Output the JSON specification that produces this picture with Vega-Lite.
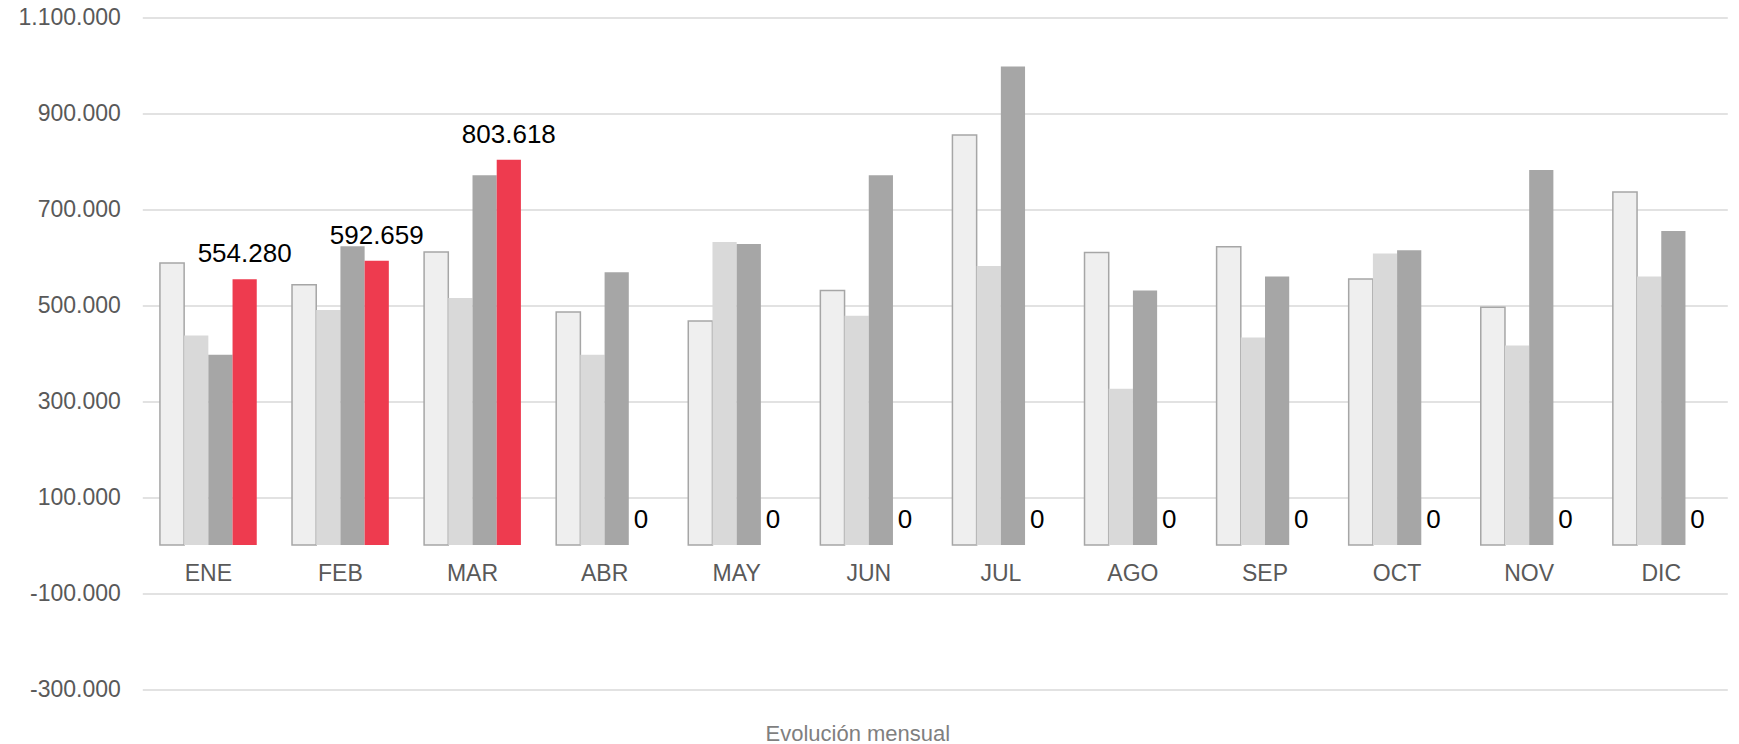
{
  "$schema": "https://vega.github.io/schema/vega-lite/v6.json",
  "width": 1585,
  "height": 671.5,
  "autosize": {"type": "none"},
  "padding": {"left": 142.3, "top": 17.5, "right": 11.7, "bottom": 55},
  "background": "white",
  "config": {
    "font": "Liberation Sans",
    "view": {"stroke": null},
    "locale": {"number": {"decimal": ",", "thousands": ".", "grouping": [3], "currency": ["", " €"], "minus": "-"}}
  },
  "data": {
    "values": [
      {"mes": "ENE", "serie": "S1", "valor": 588000},
      {"mes": "ENE", "serie": "S2", "valor": 437000},
      {"mes": "ENE", "serie": "S3", "valor": 397000},
      {"mes": "ENE", "serie": "S4", "valor": 554280},
      {"mes": "FEB", "serie": "S1", "valor": 543000},
      {"mes": "FEB", "serie": "S2", "valor": 490000},
      {"mes": "FEB", "serie": "S3", "valor": 623000},
      {"mes": "FEB", "serie": "S4", "valor": 592659},
      {"mes": "MAR", "serie": "S1", "valor": 611000},
      {"mes": "MAR", "serie": "S2", "valor": 515000},
      {"mes": "MAR", "serie": "S3", "valor": 771000},
      {"mes": "MAR", "serie": "S4", "valor": 803618},
      {"mes": "ABR", "serie": "S1", "valor": 486000},
      {"mes": "ABR", "serie": "S2", "valor": 397000},
      {"mes": "ABR", "serie": "S3", "valor": 569000},
      {"mes": "ABR", "serie": "S4", "valor": 0},
      {"mes": "MAY", "serie": "S1", "valor": 467000},
      {"mes": "MAY", "serie": "S2", "valor": 632000},
      {"mes": "MAY", "serie": "S3", "valor": 628000},
      {"mes": "MAY", "serie": "S4", "valor": 0},
      {"mes": "JUN", "serie": "S1", "valor": 531000},
      {"mes": "JUN", "serie": "S2", "valor": 478000},
      {"mes": "JUN", "serie": "S3", "valor": 771000},
      {"mes": "JUN", "serie": "S4", "valor": 0},
      {"mes": "JUL", "serie": "S1", "valor": 855000},
      {"mes": "JUL", "serie": "S2", "valor": 582000},
      {"mes": "JUL", "serie": "S3", "valor": 998000},
      {"mes": "JUL", "serie": "S4", "valor": 0},
      {"mes": "AGO", "serie": "S1", "valor": 610000},
      {"mes": "AGO", "serie": "S2", "valor": 326000},
      {"mes": "AGO", "serie": "S3", "valor": 531000},
      {"mes": "AGO", "serie": "S4", "valor": 0},
      {"mes": "SEP", "serie": "S1", "valor": 622000},
      {"mes": "SEP", "serie": "S2", "valor": 433000},
      {"mes": "SEP", "serie": "S3", "valor": 560000},
      {"mes": "SEP", "serie": "S4", "valor": 0},
      {"mes": "OCT", "serie": "S1", "valor": 555000},
      {"mes": "OCT", "serie": "S2", "valor": 608000},
      {"mes": "OCT", "serie": "S3", "valor": 615000},
      {"mes": "OCT", "serie": "S4", "valor": 0},
      {"mes": "NOV", "serie": "S1", "valor": 496000},
      {"mes": "NOV", "serie": "S2", "valor": 416000},
      {"mes": "NOV", "serie": "S3", "valor": 782000},
      {"mes": "NOV", "serie": "S4", "valor": 0},
      {"mes": "DIC", "serie": "S1", "valor": 736000},
      {"mes": "DIC", "serie": "S2", "valor": 560000},
      {"mes": "DIC", "serie": "S3", "valor": 655000},
      {"mes": "DIC", "serie": "S4", "valor": 0}
    ]
  },
  "encoding": {
    "x": {
      "field": "mes",
      "type": "nominal",
      "sort": ["ENE", "FEB", "MAR", "ABR", "MAY", "JUN", "JUL", "AGO", "SEP", "OCT", "NOV", "DIC"],
      "scale": {"paddingInner": 0.267, "paddingOuter": 0.1335},
      "axis": {
        "labels": false,
        "ticks": false,
        "domain": false,
        "grid": false,
        "title": "Evolución mensual",
        "titleFont": "Liberation Sans",
        "titleFontSize": 22,
        "titleFontWeight": "normal",
        "titleColor": "#7f7f7f",
        "titlePadding": 34,
        "titleX": 715,
        "titleAlign": "center"
      }
    },
    "y": {
      "field": "valor",
      "type": "quantitative",
      "scale": {"domain": [-300000, 1100000], "nice": false, "zero": false},
      "axis": {
        "values": [-300000, -100000, 100000, 300000, 500000, 700000, 900000, 1100000],
        "format": ",d",
        "title": null,
        "domain": false,
        "ticks": false,
        "labelPadding": 22,
        "labelFontSize": 23,
        "labelColor": "#595959",
        "labelFont": "Liberation Sans",
        "grid": true,
        "gridColor": "#d9d9d9",
        "gridWidth": 1.5
      }
    }
  },
  "layer": [
    {
      "data": {"values": [{}]},
      "mark": {"type": "rule", "color": "#d9d9d9", "strokeWidth": 1.5},
      "encoding": {"y": {"datum": 0}, "x": null}
    },
    {
      "mark": {"type": "bar", "strokeWidth": 1.5},
      "encoding": {
        "xOffset": {"field": "serie", "type": "nominal", "scale": {"paddingInner": 0, "paddingOuter": 0}},
        "color": {
          "field": "serie",
          "type": "nominal",
          "scale": {"domain": ["S1", "S2", "S3", "S4"], "range": ["#efefef", "#d9d9d9", "#a6a6a6", "#ee3b4f"]},
          "legend": null
        },
        "stroke": {
          "condition": {"test": "datum.serie === 'S1'", "value": "#a6a6a6"},
          "value": null
        }
      }
    },
    {
      "transform": [{"filter": "datum.serie === 'S4'"}],
      "mark": {"type": "text", "baseline": "alphabetic", "align": "center", "dy": -17, "fontSize": 26, "color": "#000000", "font": "Liberation Sans"},
      "encoding": {
        "xOffset": {"field": "serie", "type": "nominal", "scale": {"domain": ["S1", "S2", "S3", "S4"], "paddingInner": 0, "paddingOuter": 0}},
        "text": {"field": "valor", "type": "quantitative", "format": ",d"}
      }
    },
    {
      "transform": [{"filter": "datum.serie === 'S4'"}],
      "mark": {"type": "text", "baseline": "middle", "align": "center", "dy": 28.5, "fontSize": 23, "color": "#595959", "font": "Liberation Sans"},
      "encoding": {
        "y": {"datum": 0},
        "text": {"field": "mes", "type": "nominal"}
      }
    }
  ]
}
